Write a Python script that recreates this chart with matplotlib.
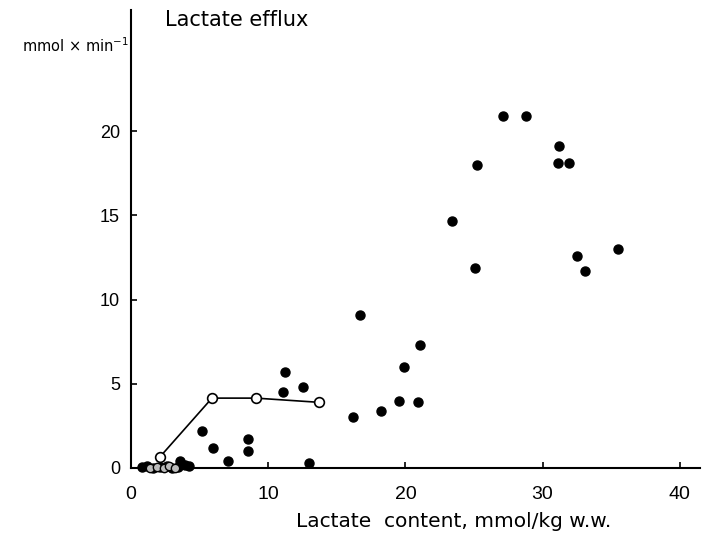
import matplotlib
matplotlib.use("Agg")
import matplotlib.pyplot as plt

# Filled points (lactate content, lactate efflux)
filled_x = [27.1, 28.8, 31.2, 31.1, 31.9, 25.2, 23.4, 25.1, 32.5, 33.1, 35.5,
            16.7, 21.1, 19.9, 19.5, 20.9, 18.2, 16.2,
            11.2, 11.1, 12.5, 5.2, 6.0, 7.1, 8.5, 8.5, 13.0, 3.6,
            0.8, 1.2, 1.6, 2.1, 2.6, 3.0, 3.4, 3.9, 4.2]
filled_y = [20.9, 20.9, 19.1, 18.1, 18.1, 18.0, 14.7, 11.9, 12.6, 11.7, 13.0,
            9.1, 7.3, 6.0, 4.0, 3.9, 3.4, 3.0,
            5.7, 4.5, 4.8, 2.2, 1.2, 0.4, 1.7, 1.0, 0.3, 0.4,
            0.05, 0.1, 0.0, 0.05, 0.1, 0.0, 0.05, 0.15, 0.1]

# Open points connected by a line
open_line_x = [2.1, 5.9, 9.1, 13.7]
open_line_y = [0.65, 4.15, 4.15, 3.9]

# Open points in the cluster near zero
open_x = [1.4, 1.9, 2.4, 2.8, 3.2]
open_y = [0.0, 0.05, 0.0, 0.1, 0.0]

xticks = [0, 10, 20, 30, 40]
yticks = [0, 5, 10, 15, 20]

tickfont = ["Liberation Sans", "DejaVu Sans"]

fig = plt.figure(figsize=(7.09, 5.33), dpi=100)
ax = fig.add_axes([0.1848, 0.122, 0.803, 0.859])

ax.plot(open_line_x, open_line_y, color="black", lw=1.2, zorder=2)
ax.plot(filled_x, filled_y, "o", color="black", ms=6.5, clip_on=False, zorder=3)
ax.plot(open_line_x, open_line_y, "o", mfc="white", mec="black", mew=1.2, ms=7,
        clip_on=False, zorder=4)
ax.plot(open_x, open_y, "o", mfc="#bbbbbb", mec="black", mew=1.0, ms=6,
        clip_on=False, zorder=4)

ax.set_xlim(0, 41.5)
ax.set_ylim(0, 27.2)
ax.set_xticks(xticks)
ax.set_yticks(yticks)
for s in ["top", "right"]:
    ax.spines[s].set_visible(False)
for s in ["left", "bottom"]:
    ax.spines[s].set_linewidth(1.5)
ax.tick_params(direction="in", length=4, width=1.2)
ax.tick_params(axis="y", pad=8)
ax.tick_params(axis="x", pad=13)
for lab in ax.get_yticklabels():
    lab.set_fontfamily(tickfont)
    lab.set_fontsize(13)
for lab in ax.get_xticklabels():
    lab.set_fontfamily(tickfont)
    lab.set_fontsize(14)

fig.text(0.418, 0.011, "Lactate  content, mmol/kg w.w.", ha="left", va="baseline",
         fontsize=14.5)
fig.text(0.233, 0.962, "Lactate efflux", ha="left", va="center", fontsize=15)
fig.text(0.031, 0.915, "mmol × min$^{-1}$", ha="left", va="center", fontsize=10.5)

fig.savefig("out.png", dpi=100)
